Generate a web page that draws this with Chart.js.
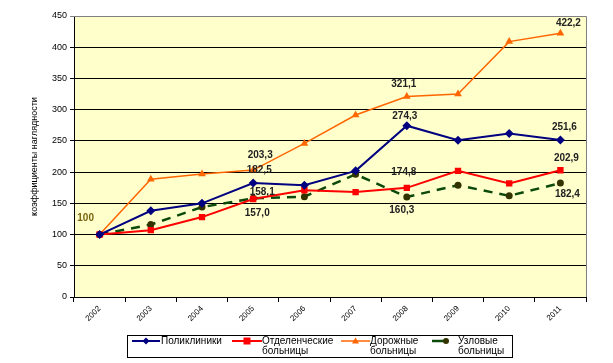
<!DOCTYPE html>
<html>
<head>
<meta charset="utf-8">
<script src="https://cdn.jsdelivr.net/npm/chart.js@4.4.1/dist/chart.umd.min.js"></script>
<style>
  html, body { margin: 0; padding: 0; background: #fff; }
  #wrap { width: 613px; height: 363px; }
</style>
</head>
<body>
<div id="wrap"><canvas id="chart" width="613" height="363"></canvas></div>
<script>
const years = ['2002', '2003', '2004', '2005', '2006', '2007', '2008', '2009', '2010', '2011'];
const seriesNames = ['Поликлиники', 'Отделенческие больницы', 'Дорожные больницы', 'Узловые больницы'];
const polyclinics = [100, 138, 150, 182.5, 179, 202, 274.3, 251, 262, 251.6];
const deptHospitals = [100, 107, 128, 157.0, 171, 168, 174.8, 202, 182, 202.9];
const roadHospitals = [100, 188.5, 197, 203.3, 246, 291.5, 321.1, 325, 409, 422.2];
const nodeHospitals = [100, 116, 144, 158.1, 160.7, 196.5, 160.3, 179, 162, 182.4];
const yTicks = [0, 50, 100, 150, 200, 250, 300, 350, 400, 450];

// which points get a value label: [dataset, point, dx, dy]
const valueLabels = [
    [3, 0, -14, -16],
    [0, 3, 6, -13], [2, 3, 7, -15], [3, 3, 9, -6], [1, 3, 4, 14],
    [0, 6, -2, -9], [2, 6, -3, -12], [1, 6, -3, -16], [3, 6, -5, 13],
    [0, 9, 4, -13], [2, 9, 8, -10], [1, 9, 6, -12], [3, 9, 7, 11]
];

const fmt = v => v === 100 ? '100' : v.toFixed(1).replace('.', ',');

const plotBg = {
    id: 'plotBg',
    beforeDraw(chart) {
        const { ctx, chartArea: a } = chart;
        ctx.save();
        ctx.fillStyle = '#FFFFCC';
        ctx.fillRect(a.left, a.top, a.right - a.left, a.bottom - a.top);
        ctx.restore();
    },
    afterDraw(chart) {
        const { ctx, chartArea: a } = chart;
        ctx.save();
        ctx.strokeStyle = '#808080';
        ctx.lineWidth = 1;
        ctx.beginPath();
        ctx.moveTo(a.left, a.top + 0.5);
        ctx.lineTo(a.right + 0.5, a.top + 0.5);
        ctx.lineTo(a.right + 0.5, a.bottom);
        ctx.stroke();
        ctx.restore();
    }
};

const pointLabels = {
    id: 'pointLabels',
    afterDatasetsDraw(chart) {
        const { ctx } = chart;
        ctx.save();
        ctx.font = 'bold 10px Arial, "Liberation Sans", sans-serif';
        ctx.textAlign = 'center';
        ctx.textBaseline = 'middle';
        valueLabels.forEach(([d, i, dx, dy]) => {
            const pt = chart.getDatasetMeta(d).data[i];
            const v = chart.data.datasets[d].data[i];
            ctx.fillStyle = (d === 3 && i === 0) ? '#7a6410' : '#222';
            ctx.fillText(fmt(v), pt.x + dx, pt.y + dy);
        });
        ctx.restore();
    }
};

const boxLegend = {
    id: 'boxLegend',
    afterDraw(chart) {
        const { ctx } = chart;
        const box = { x: 127.5, y: 335.5, w: 385, h: 22 };
        const items = [
            { x1: 132, x2: 160, tx: 161 },
            { x1: 232, x2: 262, tx: 262 },
            { x1: 341, x2: 370, tx: 370 },
            { x1: 432, x2: 448, tx: 458 }
        ];
        ctx.save();
        ctx.strokeStyle = '#000';
        ctx.lineWidth = 1;
        ctx.strokeRect(box.x, box.y, box.w, box.h);
        ctx.font = '10px Arial, "Liberation Sans", sans-serif';
        ctx.textBaseline = 'middle';
        ctx.textAlign = 'left';
        chart.data.datasets.forEach((ds, k) => {
            const it = items[k];
            const y = 341;
            ctx.strokeStyle = ds.borderColor;
            ctx.lineWidth = ds.borderWidth;
            ctx.setLineDash([]);
            ctx.beginPath();
            ctx.moveTo(it.x1, y);
            ctx.lineTo(it.x2, y);
            ctx.stroke();
            const cx = (it.x1 + it.x2) / 2 + (k === 3 ? 6 : 0);
            ctx.fillStyle = ds.pointBackgroundColor;
            ctx.beginPath();
            const r = 3.5;
            if (ds.pointStyle === 'rectRot') {
                ctx.moveTo(cx, y - r); ctx.lineTo(cx + r, y); ctx.lineTo(cx, y + r); ctx.lineTo(cx - r, y);
            } else if (ds.pointStyle === 'rect') {
                ctx.rect(cx - r, y - r, 2 * r, 2 * r);
            } else if (ds.pointStyle === 'triangle') {
                ctx.moveTo(cx, y - r); ctx.lineTo(cx + r, y + r - 1); ctx.lineTo(cx - r, y + r - 1);
            } else {
                ctx.arc(cx, y, 3, 0, Math.PI * 2);
            }
            ctx.closePath();
            ctx.fill();
            ctx.fillStyle = '#000';
            const words = ds.label.split(' ');
            ctx.fillText(words[0], it.tx, 341);
            if (words[1]) ctx.fillText(words[1], it.tx, 351);
        });
        ctx.restore();
    }
};

new Chart(document.getElementById('chart'), {
    type: 'line',
    data: {
        labels: years,
        datasets: [
            {
                label: seriesNames[0], data: polyclinics,
                borderColor: '#000080', backgroundColor: '#000080', pointBackgroundColor: '#000080',
                borderWidth: 2, pointStyle: 'rectRot', pointRadius: 4.5, pointBorderWidth: 0
            },
            {
                label: seriesNames[1], data: deptHospitals,
                borderColor: '#FF0000', backgroundColor: '#FF0000', pointBackgroundColor: '#FF0000',
                borderWidth: 2, pointStyle: 'rect', pointRadius: 4.5, pointBorderWidth: 0
            },
            {
                label: seriesNames[2], data: roadHospitals,
                borderColor: '#FF6600', backgroundColor: '#FF6600', pointBackgroundColor: '#FF6600',
                borderWidth: 1.5, pointStyle: 'triangle', pointRadius: 4.5, pointBorderWidth: 0
            },
            {
                label: seriesNames[3], data: nodeHospitals,
                borderColor: '#0B4A0B', backgroundColor: '#333300', pointBackgroundColor: '#333300',
                borderWidth: 2.5, borderDash: [9, 7], pointStyle: 'circle', pointRadius: 3.5, pointBorderWidth: 0
            }
        ]
    },
    options: {
        responsive: false,
        animation: false,
        layout: { padding: { top: 16, right: 27, left: 0, bottom: 0 } },
        elements: { line: { tension: 0 } },
        plugins: { legend: { display: false }, tooltip: { enabled: false } },
        scales: {
            x: {
                offset: true,
                afterFit: s => { s.height = 66; },
                grid: { display: true, offset: true, drawOnChartArea: false, drawTicks: true, tickLength: 5, color: '#000' },
                border: { color: '#000', width: 1 },
                ticks: {
                    minRotation: 45, maxRotation: 45, padding: 2, color: '#000',
                    font: { family: 'Arial, "Liberation Sans", sans-serif', size: 8 }
                }
            },
            y: {
                min: 0, max: 450,
                afterFit: s => { s.width = 74; },
                afterBuildTicks: s => { s.ticks = yTicks.map(v => ({ value: v })); },
                grid: {
                    color: c => c.tick && c.tick.value === 450 ? '#808080' : '#000',
                    tickLength: 4, lineWidth: 1
                },
                border: { color: '#000', width: 1 },
                ticks: {
                    color: '#000', padding: 3,
                    font: { family: 'Arial, "Liberation Sans", sans-serif', size: 9 }
                },
                title: {
                    display: true, text: 'коэффициенты наглядности', color: '#000',
                    padding: { top: 29, bottom: 0 },
                    font: { family: 'Arial, "Liberation Sans", sans-serif', size: 9 }
                }
            }
        }
    },
    plugins: [plotBg, pointLabels, boxLegend]
});
</script>
</body>
</html>
